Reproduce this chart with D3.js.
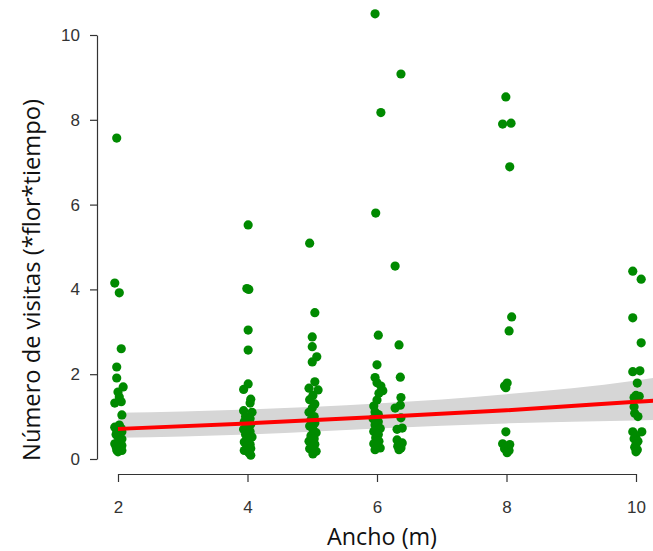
<!DOCTYPE html>
<html>
<head>
<meta charset="utf-8">
<script src="https://cdn.jsdelivr.net/npm/d3@7"></script>
<style>
  html, body { margin: 0; padding: 0; background: #fff; }
  svg { display: block; }
</style>
</head>
<body>
<svg id="chart" width="653" height="551"></svg>
<script>
// ---- data ----
const xTicks = [2, 4, 6, 8, 10];
const yTicks = [0, 2, 4, 6, 8, 10];
const xTitle = "Ancho (m)";
const yTitle = "Número de visitas (*flor*tiempo)";

// observed points: [ancho (jittered), visitas]
const ptsAncho2 = [[1.98,7.57],[1.95,4.15],[2.02,3.92],[2.05,2.60],[1.98,2.17],[1.98,1.91],[2.08,1.70],[2.00,1.58],[2.02,1.46],[1.95,1.32],[2.05,1.35],[2.06,1.04],[2.02,0.80],[1.95,0.75],[2.05,0.72],[1.98,0.68],[2.06,0.64],[1.97,0.58],[2.00,0.52],[2.06,0.47],[2.03,0.42],[1.95,0.36],[2.06,0.32],[1.97,0.29],[2.03,0.26],[1.98,0.21],[2.06,0.20],[2.00,0.17]];
const ptsAncho4 = [[4.01,5.52],[3.99,4.02],[4.02,4.00],[4.01,3.04],[4.01,2.57],[4.01,1.77],[3.94,1.64],[4.05,1.41],[4.04,1.32],[3.94,1.14],[4.07,1.10],[3.97,1.00],[4.04,0.95],[3.95,0.88],[4.05,0.82],[3.99,0.75],[3.94,0.70],[4.04,0.65],[3.97,0.58],[4.07,0.52],[4.01,0.47],[3.95,0.40],[4.04,0.35],[3.99,0.30],[4.05,0.25],[3.95,0.20],[4.02,0.15],[4.05,0.09]];
const ptsAncho5 = [[4.96,5.09],[5.04,3.45],[5.00,2.88],[5.00,2.65],[5.07,2.41],[5.00,2.29],[5.04,1.82],[4.95,1.67],[5.09,1.63],[5.01,1.50],[4.96,1.40],[5.04,1.30],[5.00,1.20],[4.95,1.10],[5.03,1.00],[4.98,0.92],[5.04,0.85],[4.96,0.78],[5.01,0.70],[5.06,0.62],[4.98,0.55],[5.03,0.48],[4.95,0.42],[5.04,0.35],[5.00,0.30],[4.96,0.24],[5.06,0.18],[5.01,0.12]];
const ptsAncho6 = [[5.97,10.5],[6.06,8.17],[5.98,5.80],[6.02,2.92],[6.00,2.22],[5.97,1.92],[6.00,1.80],[6.06,1.72],[6.09,1.61],[6.03,1.55],[6.00,1.39],[5.95,1.25],[5.97,1.11],[6.02,1.05],[5.94,0.95],[6.02,0.88],[5.97,0.80],[6.05,0.72],[5.95,0.65],[6.02,0.58],[5.98,0.50],[6.03,0.42],[5.95,0.36],[6.00,0.30],[6.05,0.26],[5.97,0.22]];
const ptsAncho63 = [[6.37,9.08],[6.28,4.55],[6.34,2.69],[6.36,1.93],[6.37,1.45],[6.36,1.27],[6.28,1.20],[6.37,0.97],[6.31,0.70],[6.39,0.73],[6.31,0.45],[6.39,0.38],[6.32,0.30],[6.37,0.26],[6.34,0.22]];
const ptsAncho8 = [[7.99,8.54],[7.94,7.90],[8.07,7.92],[8.05,6.89],[8.08,3.35],[8.04,3.02],[8.01,1.79],[7.97,1.72],[7.99,1.68],[7.99,0.64],[7.94,0.36],[8.05,0.34],[8.02,0.28],[7.97,0.24],[8.04,0.20],[8.01,0.15]];
const ptsAncho10 = [[9.95,4.43],[10.08,4.24],[9.95,3.33],[10.08,2.74],[9.95,2.06],[10.06,2.08],[10.02,1.79],[10.00,1.50],[10.05,1.48],[9.97,1.45],[9.97,1.23],[9.98,1.08],[10.03,1.00],[9.95,0.64],[10.09,0.64],[10.00,0.55],[9.97,0.48],[10.03,0.42],[10.00,0.35],[9.98,0.28],[10.02,0.22],[10.00,0.17]];

// fitted curve and confidence band
const fitX     = [2, 4, 6, 8, 10, 10.3];
const fitY     = [0.71, 0.84, 0.99, 1.15, 1.35, 1.38];
const fitLower = [0.50, 0.58, 0.72, 0.84, 0.91, 0.92];
const fitUpper = [1.09, 1.17, 1.31, 1.53, 1.85, 1.92];

// ---- drawing ----
const svg = d3.select("#chart");
const x = d3.scaleLinear().domain([2, 10]).range([118, 636]);
const y = d3.scaleLinear().domain([0, 10]).range([459, 35]);

const fitRows = fitX.map((v, i) => ({x: v, y: fitY[i], lo: fitLower[i], hi: fitUpper[i]}));

svg.append("defs").append("clipPath").attr("id", "clip")
  .append("rect").attr("x", 0).attr("y", 0).attr("width", 653).attr("height", 551);

// band
svg.append("path")
  .datum(fitRows)
  .attr("clip-path", "url(#clip)")
  .attr("fill", "#d6d6d6")
  .attr("d", d3.area().x(d => x(d.x)).y0(d => y(d.lo)).y1(d => y(d.hi)).curve(d3.curveMonotoneX));

// points
const allPts = [].concat(ptsAncho2, ptsAncho4, ptsAncho5, ptsAncho6, ptsAncho63, ptsAncho8, ptsAncho10);
svg.append("g").selectAll("circle").data(allPts).join("circle")
  .attr("cx", d => x(d[0]))
  .attr("cy", d => y(d[1]))
  .attr("r", 4.6)
  .attr("fill", "#008a00");

// fitted line
svg.append("path")
  .datum(fitRows)
  .attr("clip-path", "url(#clip)")
  .attr("fill", "none")
  .attr("stroke", "#ff0000")
  .attr("stroke-width", 4)
  .attr("d", d3.line().x(d => x(d.x)).y(d => y(d.y)).curve(d3.curveMonotoneX));

// axes
const yAxis = svg.append("g")
  .attr("transform", "translate(97,0)")
  .call(d3.axisLeft(y).tickValues(yTicks).tickSize(7).tickSizeOuter(0).tickPadding(10).tickFormat(d3.format("d")));
const xAxis = svg.append("g")
  .attr("transform", "translate(0,474)")
  .call(d3.axisBottom(x).tickValues(xTicks).tickSize(8).tickSizeOuter(0).tickPadding(19).tickFormat(d3.format("d")));

[yAxis, xAxis].forEach(g => {
  g.selectAll("path.domain").attr("stroke", "#333").attr("stroke-width", 1.2);
  g.selectAll(".tick line").attr("stroke", "#333").attr("stroke-width", 1.2);
  g.selectAll(".tick text")
    .attr("font-family", "'Liberation Sans', Arial, sans-serif")
    .attr("font-size", 17)
    .attr("fill", "#333");
});

// titles
function fitText(sel, target) {
  const w = sel.node().getComputedTextLength();
  const fs = parseFloat(sel.attr("font-size"));
  sel.attr("font-size", (fs * target / w).toFixed(2));
}
const xt = svg.append("text")
  .attr("x", 382).attr("y", 545)
  .attr("text-anchor", "middle")
  .attr("font-family", "'Open Sans', sans-serif")
  .attr("font-size", 22)
  .attr("fill", "#111")
  .text(xTitle);
fitText(xt, 110);

const yt = svg.append("text")
  .attr("transform", "translate(40,280) rotate(-90)")
  .attr("text-anchor", "middle")
  .attr("font-family", "'Open Sans', sans-serif")
  .attr("font-size", 22)
  .attr("fill", "#111")
  .text(yTitle);
fitText(yt, 362);
</script>
</body>
</html>
